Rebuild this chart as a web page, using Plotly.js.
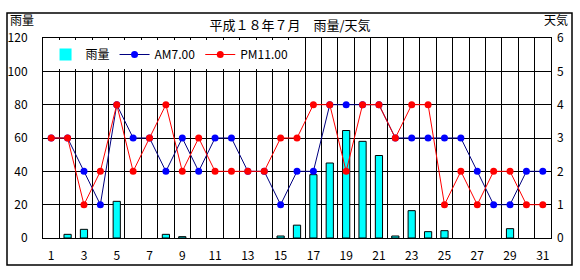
<!DOCTYPE html>
<html>
<head>
<meta charset="utf-8">
<script src="https://cdn.plot.ly/plotly-3.0.1.min.js"></script>
<style>html,body{margin:0;padding:0;background:#fff;}#chart{width:580px;height:280px;}</style>
</head>
<body>
<div id="chart"></div>
<script>
const days = [1,2,3,4,5,6,7,8,9,10,11,12,13,14,15,16,17,18,19,20,21,22,23,24,25,26,27,28,29,30,31];
const rain = [0,2.2,5.2,0,22,0,0,2.2,0.8,0,0,0,0,0,1.2,7.7,38,45,64.5,58,49.5,1.2,16.4,3.8,4.4,0,0,0,5.6,0,0];
const amWeather = [3,3,2,1,4,3,3,2,3,2,3,3,2,2,1,2,2,4,4,4,4,3,3,3,3,3,2,1,1,2,2];
const pmWeather = [3,3,1,2,4,2,3,4,2,3,2,2,2,2,3,3,4,4,2,4,4,3,4,4,1,2,1,2,2,1,1];
const xTicks = [1,3,5,7,9,11,13,15,17,19,21,23,25,27,29,31];
const leftTicks = [0,20,40,60,80,100,120];
const rightTicks = [0,1,2,3,4,5,6];
const names = ['雨量','AM7.00','PM11.00'];

const FONT = '"Noto Sans CJK JP", "DejaVu Sans", sans-serif';

const traces = [
  {type:'bar', x:days, y:rain, name:names[0], yaxis:'y',
   marker:{color:'#00FFFF', line:{color:'#000000', width:rain.map(v => v > 0 ? 1 : 0)}}},
  {type:'scatter', mode:'lines+markers', x:days, y:amWeather, name:names[1], yaxis:'y2',
   line:{color:'#000080', width:1}, marker:{color:'#0000FF', size:7, symbol:'circle'}},
  {type:'scatter', mode:'lines+markers', x:days, y:pmWeather, name:names[2], yaxis:'y2',
   line:{color:'#FF0000', width:1}, marker:{color:'#FF0000', size:7, symbol:'circle'}}
];

const layout = {
  width:580, height:280,
  margin:{l:43, r:29, t:38, b:42, pad:0},
  paper_bgcolor:'#ffffff', plot_bgcolor:'#ffffff',
  font:{family:FONT, size:12, color:'#000'},
  showlegend:true,
  bargap:0.56,
  title:{text:'平成１８年７月　雨量/天気', x:0.5, xref:'container', y:1-25/280, yref:'container',
         xanchor:'center', yanchor:'middle', font:{family:FONT, size:13, color:'#000'}},
  xaxis:{range:[0.5,31.5], tickmode:'array', tickvals:xTicks, ticktext:xTicks.map(String),
         showgrid:false, zeroline:false, showline:true, mirror:true, linecolor:'#000', linewidth:1,
         ticks:'', ticklabelstandoff:7, tickfont:{family:FONT, size:12},
         minor:{tick0:0.5, dtick:1, showgrid:true, gridcolor:'#000000', gridwidth:1, ticks:''}},
  yaxis:{range:[0,120], tickmode:'array', tickvals:leftTicks, showgrid:true, gridcolor:'#000', gridwidth:1,
         zeroline:false, showline:true, mirror:true, linecolor:'#000', linewidth:1, ticks:'',
         ticklabelstandoff:12, tickfont:{family:FONT, size:12}},
  yaxis2:{range:[0,6], tickmode:'array', tickvals:rightTicks, overlaying:'y', side:'right',
          showgrid:false, zeroline:false, showline:false, ticks:'', ticklabelstandoff:5,
          tickfont:{family:FONT, size:12}},
  legend:{orientation:'h', x:0.005, xanchor:'left', y:0.99, yanchor:'top', bgcolor:'#ffffff',
          borderwidth:0, font:{family:FONT, size:12}, traceorder:'normal', itemwidth:30},
  annotations:[
    {text:'雨量', xref:'paper', yref:'paper', x:(8-43)/508, y:(238-20)/200, xanchor:'left', yanchor:'middle',
     showarrow:false, font:{family:FONT, size:12}},
    {text:'天気', xref:'paper', yref:'paper', x:(570-43)/508, y:(238-20)/200, xanchor:'right', yanchor:'middle',
     showarrow:false, font:{family:FONT, size:12}}
  ],
  shapes:[
    {type:'rect', xref:'paper', yref:'paper', x0:(7-43)/508, x1:(572-43)/508, y0:(238-265)/200, y1:(238-13)/200,
     line:{color:'#000', width:1.5}, fillcolor:'rgba(0,0,0,0)', layer:'below'}
  ]
};

Plotly.newPlot('chart', traces, layout, {staticPlot:true, displayModeBar:false});
</script>
</body>
</html>
